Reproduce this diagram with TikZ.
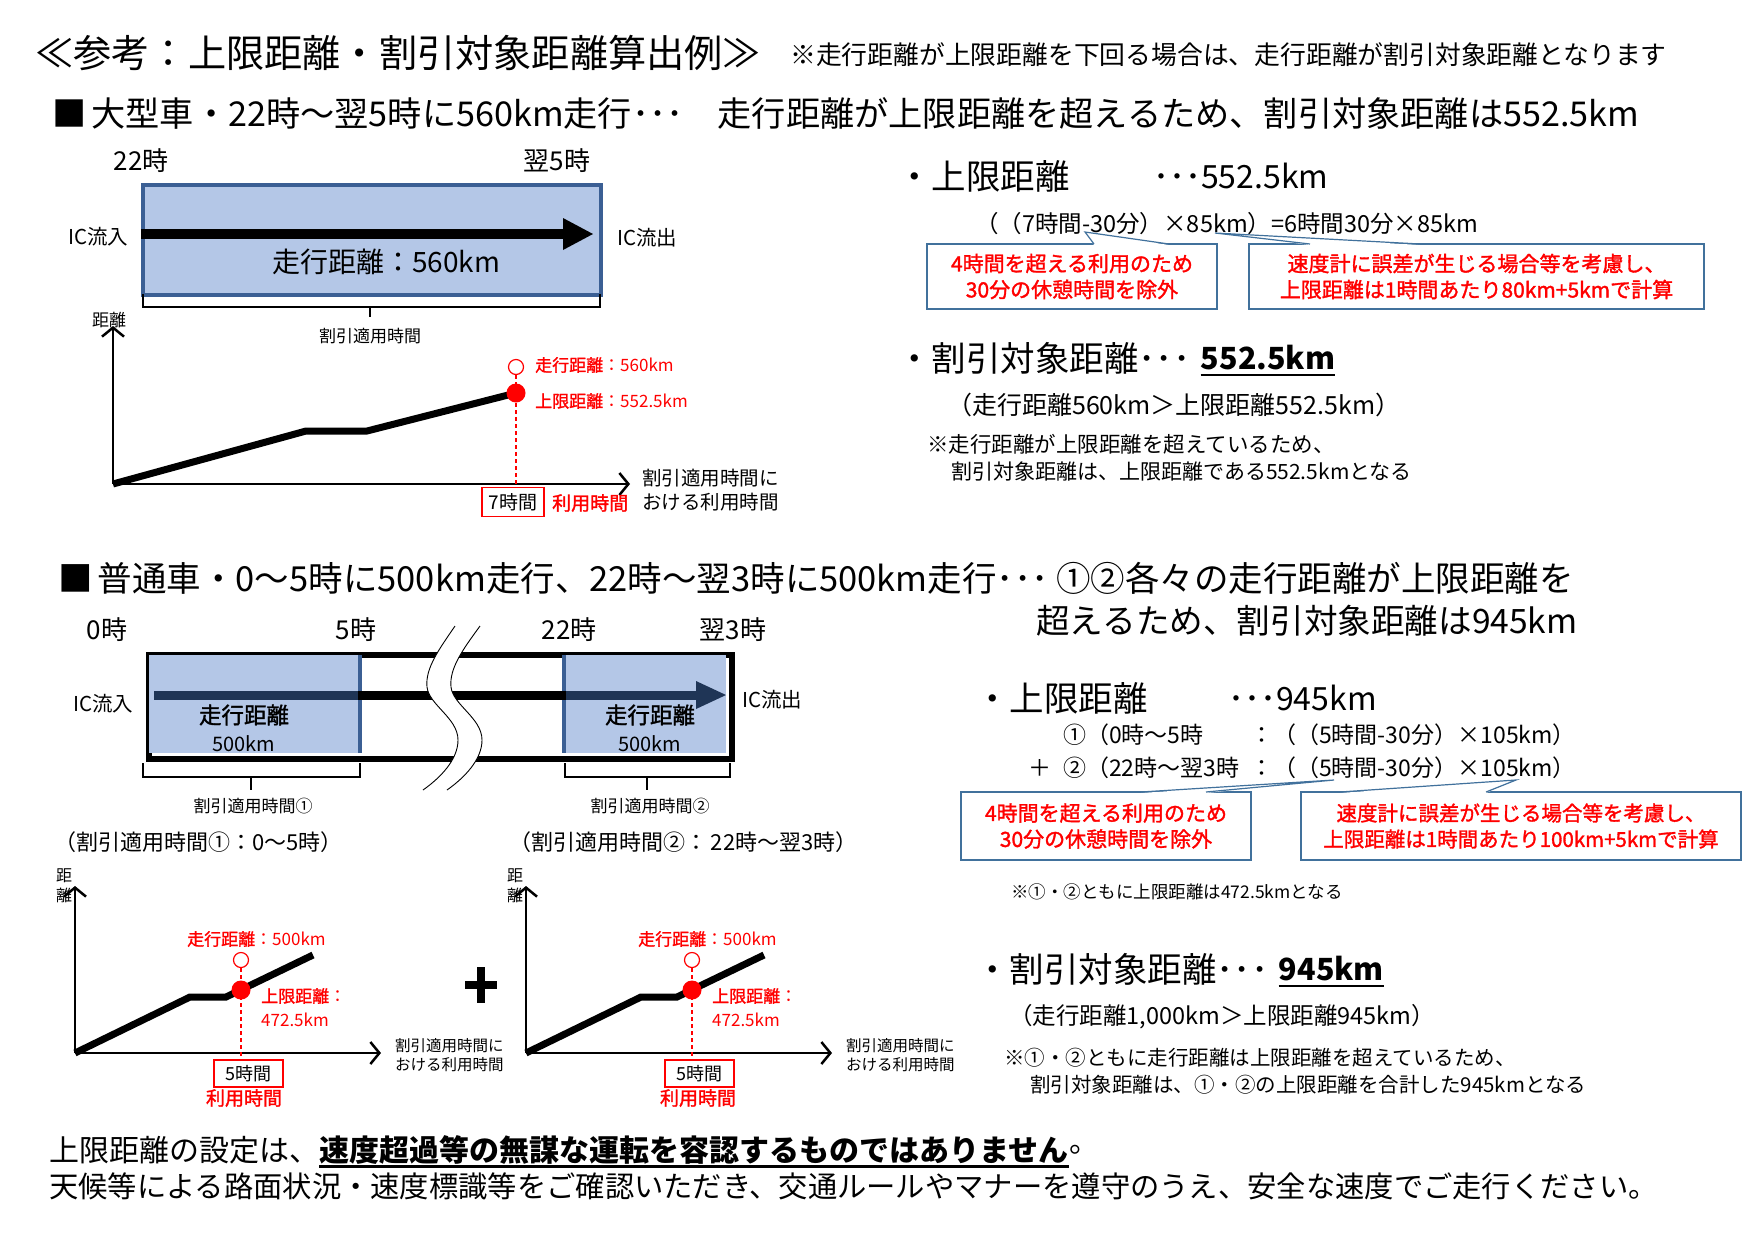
\documentclass[tikz,border=0pt]{standalone}
\usepackage{fontspec}
\setmainfont{Noto Sans CJK JP}
\newfontfamily\semib{Noto Sans CJK JP}[FakeBold=1.5]
\usetikzlibrary{arrows.meta,calc}
\definecolor{boxblue}{HTML}{B4C7E7}
\definecolor{edgeblue}{HTML}{3B5F94}
\definecolor{callblue}{HTML}{41719C}
\definecolor{navy}{HTML}{1F3556}
\definecolor{jred}{HTML}{FF0000}
\newcommand{\fsz}[1]{\fontsize{#1}{#1}\selectfont}
\tikzset{
  lbl/.style={inner sep=0pt, anchor=west},
  clbl/.style={inner sep=0pt},
  axisline/.style={line width=2.5pt, -{Straight Barb[length=9pt,width=22pt]}},
  trace/.style={line width=7pt},
  guide/.style={draw=jred, line width=1.5pt, dash pattern=on 4pt off 3pt},
  callbox/.style={draw=callblue, line width=1.2pt, fill=white, inner sep=0pt},
  calltxt/.style={text=jred, font=\fontsize{21}{26}\selectfont\semib, align=center},
  wedge/.style={draw=callblue, line width=1.2pt},
  hourbox/.style={draw=jred, line width=1.2pt, inner sep=0pt, font=\fsz{19}},
  redlbl/.style={text=jred, inner sep=0pt, anchor=west, font=\fsz{17}},
  brace/.style={line width=1.5pt},
  dotpt/.style={circle, fill=jred, inner sep=0pt, minimum size=19pt},
  opendot/.style={circle, draw=jred, fill=white, line width=1.2pt, inner sep=0pt, minimum size=15pt},
}
\begin{document}
\begin{tikzpicture}[x=1pt,y=-1pt]
\path[use as bounding box, fill=white] (0,0) rectangle (1755,1232);

% ---------- header ----------
\node[lbl, font=\fsz{38.2}] (title) at (35,53) {≪参考：上限距離・割引対象距離算出例≫};
\node[lbl, font=\fsz{25.8}] (note) at (790,55) {※走行距離が上限距離を下回る場合は、走行距離が割引対象距離となります};

% ---------- section 1 ----------
\node[lbl, font=\fsz{34.2}] (head1) at (52,113) {■\hspace{0.15em}大型車・22時～翌5時に560km走行･･･　走行距離が上限距離を超えるため、割引対象距離は552.5km};

\node[clbl, font=\fsz{26}] (t22a) at (141,161) {22時};
\node[clbl, font=\fsz{26}] (t5a) at (557,161) {翌5時};
\node[draw=edgeblue, line width=4pt, fill=boxblue, inner sep=0pt, minimum width=458pt, minimum height=110pt, anchor=north west] (road1) at (141,183) {};
\coordinate (r1in) at (141,234);
\coordinate (r1head) at (563,234);
\coordinate (r1tip) at (593,234);
\draw[line width=10pt] (r1in) -- (r1head);
\fill ($(r1head)+(0,-16)$) -- (r1tip) -- ($(r1head)+(0,16)$) -- cycle;
\node[clbl, font=\fsz{28}] (dist1) at (386,262) {走行距離：560km};
\node[lbl, font=\fsz{20.5}] (icin1) at (68,237) {IC流入};
\node[lbl, font=\fsz{20.5}] (icout1) at (617,238) {IC流出};
\draw[brace] (143,294) -- (143,307) -- (600,307) -- (600,294);
\draw[brace] (370,307) -- (370,317);
\node[clbl, font=\fsz{17}] (span1) at (370,336) {割引適用時間};
\node[clbl, font=\fsz{17}] (ylab1) at (109,320) {距離};

% graph 1
\coordinate (o1) at (113,484);
\coordinate (y1) at (113,326);
\coordinate (x1) at (630,484);
\coordinate (p1) at (516,393);
\draw[axisline] (o1) -- (y1);
\draw[axisline] (o1) -- (x1);
\draw[trace] (o1) -- (306,431) -- (367,431) -- (p1);
\node[hourbox, minimum width=62pt, minimum height=29pt] (hb1) at (513,502) {7時間};
\node[opendot] (oc1) at (516,367) {};
\draw[guide] (oc1.south) -- (hb1.north -| oc1);
\node[dotpt] (dot1) at (p1) {};
\node[lbl, text=jred, font=\fsz{19}\semib] (use1) at (552,503) {利用時間};
\node[lbl, align=left, font=\fontsize{19.5}{24}\selectfont] (xl1) at (642,490) {割引適用時間に\\おける利用時間};
\node[redlbl] (run1) at (535,365) {{\semib 走行距離}：560km};
\node[redlbl] (cap1) at (535,401) {{\semib 上限距離}：552.5km};

% right of section 1
\node[lbl, font=\fsz{34.5}] (ub1) at (897,176) {・上限距離};
\node[lbl, font=\fsz{32}] (ub1v) at (1153,176) {･･･552.5km};
\node[lbl, font=\fsz{23.5}] (form1) at (975,224) {（（7時間-30分）×85km）=6時間30分×85km};
\node[callbox, calltxt, minimum width=290pt, minimum height=65pt] (cb1) at (1072,276.5) {4時間を超える利用のため\\30分の休憩時間を除外};
\node[callbox, calltxt, minimum width=455pt, minimum height=65pt] (cb2) at (1476.5,276.5) {速度計に誤差が生じる場合等を考慮し、\\上限距離は1時間あたり80km+5kmで計算};
\coordinate (w1a) at (1094,244); \coordinate (w1b) at (1169,244); \coordinate (w1t) at (1085,232);
\coordinate (w2a) at (1310,244); \coordinate (w2b) at (1420,244); \coordinate (w2t) at (1215,233);
\fill[white] ($(w1a)+(0,1)$) -- (w1t) -- ($(w1b)+(0,1)$) -- cycle;
\draw[wedge] (w1a) -- (w1t) -- (w1b);
\fill[white] ($(w2a)+(0,1)$) -- (w2t) -- ($(w2b)+(0,1)$) -- cycle;
\draw[wedge] (w2a) -- (w2t) -- (w2b);

\node[lbl, font=\fsz{34.5}] (disc1) at (897,358) {・割引対象距離･･･};
\node[lbl, font=\fsz{30.5}\bfseries, xshift=10pt] (disc1v) at (disc1.east) {552.5km};
\draw[line width=2.5pt] ($(disc1v.base west)+(0,5)$) -- ($(disc1v.base east)+(0,5)$);
\node[lbl, font=\fsz{25}] (cmp1) at (947,405) {（走行距離560km＞上限距離552.5km）};
\node[lbl, font=\fsz{21.5}] (nt1a) at (927,444) {※走行距離が上限距離を超えているため、};
\node[lbl, font=\fsz{21}] (nt1b) at (951,471) {割引対象距離は、上限距離である552.5kmとなる};

% ---------- section 2 ----------
\node[lbl, font=\fsz{34.5}] (head2) at (58,578) {■\hspace{0.15em}普通車・0～5時に500km走行、22時～翌3時に500km走行･･･ ①②各々の走行距離が上限距離を};
\node[lbl, font=\fsz{33.6}] (head2b) at (1036,621) {超えるため、割引対象距離は945km};

\node[clbl, font=\fsz{26}] (t0) at (107,630) {0時};
\node[clbl, font=\fsz{26}] (t5b) at (356,630) {5時};
\node[clbl, font=\fsz{26}] (t22b) at (569,630) {22時};
\node[clbl, font=\fsz{26}] (t3) at (733,630) {翌3時};

\node[draw=black, line width=6pt, fill=white, inner sep=0pt, minimum width=583pt, minimum height=104pt, anchor=north west] (road2) at (146,652) {};
\fill[boxblue] (149,655) rectangle (360,753);
\fill[boxblue] (564,655) rectangle (726,753);
\draw[edgeblue, line width=4pt] (360,655) -- (360,753);
\draw[edgeblue, line width=4pt] (564,655) -- (564,753);
\coordinate (r2in) at (154,695);
\coordinate (r2a) at (358,695);
\coordinate (r2b) at (566,695);
\coordinate (r2head) at (696,695);
\coordinate (r2tip) at (726,695);
\draw[line width=9pt] (r2a) -- (r2b);
\draw[navy, line width=9pt] (r2in) -- (r2a);
\draw[navy, line width=9pt] (r2b) -- (r2head);
\fill[navy] ($(r2head)+(0,-14)$) -- (r2tip) -- ($(r2head)+(0,14)$) -- cycle;
% break mark
\fill[white] (455,626) .. controls (440,648) and (425,668) .. (427,687)
  .. controls (429,705) and (458,718) .. (458,740)
  .. controls (458,760) and (440,778) .. (423,790)
  -- (447,790) .. controls (464,778) and (482,760) .. (482,740)
  .. controls (482,718) and (453,705) .. (451,687)
  .. controls (449,668) and (464,648) .. (480,626) -- cycle;
\draw[line width=0.9pt] (455,626) .. controls (440,648) and (425,668) .. (427,687)
  .. controls (429,705) and (458,718) .. (458,740)
  .. controls (458,760) and (440,778) .. (423,790);
\draw[line width=0.9pt] (480,626) .. controls (464,648) and (449,668) .. (451,687)
  .. controls (453,705) and (482,718) .. (482,740)
  .. controls (482,760) and (464,778) .. (447,790);

\node[lbl, font=\fsz{20.5}] (icin2) at (73,704) {IC流入};
\node[lbl, font=\fsz{20.5}] (icout2) at (742,700) {IC流出};
\node[clbl, font=\fsz{22.5}\semib] (pd1) at (244,715) {走行距離};
\node[clbl, font=\fsz{20}] (pk1) at (244,744) {500km};
\node[clbl, font=\fsz{22.5}\semib] (pd2) at (650,715) {走行距離};
\node[clbl, font=\fsz{20}] (pk2) at (650,744) {500km};
\draw[brace] (143,763) -- (143,777) -- (360,777) -- (360,763);
\draw[brace] (251,777) -- (251,790);
\draw[brace] (565,763) -- (565,777) -- (730,777) -- (730,763);
\draw[brace] (647,777) -- (647,790);
\node[clbl, font=\fsz{17}] (span2a) at (253,806) {割引適用時間①};
\node[clbl, font=\fsz{17}] (span2b) at (650,806) {割引適用時間②};
\node[lbl, font=\fsz{22}] (per1) at (54,842) {（割引適用時間①：0～5時）};
\node[lbl, font=\fsz{22}] (per2) at (509,842) {（割引適用時間②：\,22時～翌3時）};

% graph 2a
\coordinate (o2) at (75,1053);
\coordinate (y2) at (75,886);
\coordinate (x2) at (381,1053);
\coordinate (p2) at (241,990);
\node[clbl, align=center, font=\fontsize{16}{20}\selectfont] (yl2) at (64,886) {距\\離};
\draw[axisline] (o2) -- (y2);
\draw[axisline] (o2) -- (x2);
\draw[trace] (o2) -- (190,997) -- (226,997) -- (313,955);
\node[hourbox, minimum width=69pt, minimum height=27pt, font=\fsz{18}] (hb2) at (248.5,1073.5) {5時間};
\node[opendot] (oc2) at (241,960) {};
\draw[guide] (oc2.south) -- (hb2.north -| oc2);
\node[dotpt] (dot2) at (p2) {};
\node[clbl, text=jred, font=\fsz{19}\semib] (use2) at (244,1098) {利用時間};
\node[redlbl] (run2) at (187,939) {{\semib 走行距離}：500km};
\node[redlbl] (cap2) at (261,996) {{\semib 上限距離}：};
\node[redlbl] (cap2v) at (261,1020) {472.5km};
\node[lbl, align=left, font=\fontsize{15.5}{19}\selectfont] (xl2) at (395,1055) {割引適用時間に\\おける利用時間};

% plus
\coordinate (pl) at (481,985);
\draw[line width=8pt] ($(pl)+(-16,0)$) -- ($(pl)+(16,0)$);
\draw[line width=8pt] ($(pl)+(0,-18)$) -- ($(pl)+(0,18)$);

% graph 2b
\coordinate (o3) at (526,1053);
\coordinate (y3) at (526,886);
\coordinate (x3) at (832,1053);
\coordinate (p3) at (692,990);
\node[clbl, align=center, font=\fontsize{16}{20}\selectfont] (yl3) at (515,886) {距\\離};
\draw[axisline] (o3) -- (y3);
\draw[axisline] (o3) -- (x3);
\draw[trace] (o3) -- (641,997) -- (677,997) -- (764,955);
\node[hourbox, minimum width=69pt, minimum height=27pt, font=\fsz{18}] (hb3) at (699.5,1073.5) {5時間};
\node[opendot] (oc3) at (692,960) {};
\draw[guide] (oc3.south) -- (hb3.north -| oc3);
\node[dotpt] (dot3) at (p3) {};
\node[clbl, text=jred, font=\fsz{19}\semib] (use3) at (698,1098) {利用時間};
\node[redlbl] (run3) at (638,939) {{\semib 走行距離}：500km};
\node[redlbl] (cap3) at (712,996) {{\semib 上限距離}：};
\node[redlbl] (cap3v) at (712,1020) {472.5km};
\node[lbl, align=left, font=\fontsize{15.5}{19}\selectfont] (xl3) at (846,1055) {割引適用時間に\\おける利用時間};

% right of section 2
\node[lbl, font=\fsz{34.5}] (ub2) at (975,698) {・上限距離};
\node[lbl, font=\fsz{32}] (ub2v) at (1228,698) {･･･945km};
\node[lbl, font=\fsz{23}] (f1a) at (1063,735) {①（0時～5時};
\node[lbl, font=\fsz{23}] (f1b) at (1250,735) {：（（5時間-30分）×105km）};
\node[lbl, font=\fsz{23}] (fplus) at (1028,768) {＋};
\node[lbl, font=\fsz{23}] (f2a) at (1063,768) {②（22時～翌3時};
\node[lbl, font=\fsz{23}] (f2b) at (1250,768) {：（（5時間-30分）×105km）};
\node[callbox, calltxt, minimum width=290pt, minimum height=68pt] (cb3) at (1106,826) {4時間を超える利用のため\\30分の休憩時間を除外};
\node[callbox, calltxt, minimum width=440pt, minimum height=68pt, font=\fontsize{20.5}{26}\selectfont\semib] (cb4) at (1521,826) {速度計に誤差が生じる場合等を考慮し、\\上限距離は1時間あたり100km+5kmで計算};
\coordinate (w3a) at (1141,792); \coordinate (w3b) at (1206,792); \coordinate (w3t) at (1334,780);
\coordinate (w4a) at (1340,792); \coordinate (w4b) at (1486,792); \coordinate (w4t) at (1516,780);
\fill[white] ($(w3a)+(0,1)$) -- (w3t) -- ($(w3b)+(0,1)$) -- cycle;
\draw[wedge] (w3a) -- (w3t) -- (w3b);
\fill[white] ($(w4a)+(0,1)$) -- (w4t) -- ($(w4b)+(0,1)$) -- cycle;
\draw[wedge] (w4a) -- (w4t) -- (w4b);
\node[lbl, font=\fsz{17.5}] (nt2) at (1011,892) {※①・②ともに上限距離は472.5kmとなる};

\node[lbl, font=\fsz{34.5}] (disc2) at (975,969) {・割引対象距離･･･};
\node[lbl, font=\fsz{30.5}\bfseries, xshift=10pt] (disc2v) at (disc2.east) {945km};
\draw[line width=2.5pt] ($(disc2v.base west)+(0,5)$) -- ($(disc2v.base east)+(0,5)$);
\node[lbl, font=\fsz{23.5}] (cmp2) at (1009,1017) {（走行距離1,000km＞上限距離945km）};
\node[lbl, font=\fsz{20.5}] (nt3a) at (1004,1058) {※①・②ともに走行距離は上限距離を超えているため、};
\node[lbl, font=\fsz{20.5}] (nt3b) at (1030,1085) {割引対象距離は、①・②の上限距離を合計した945kmとなる};

% ---------- footer ----------
\node[lbl, font=\fsz{30}] (ft1a) at (49,1150) {上限距離の設定は、};
\node[lbl, font=\fsz{30}\bfseries] (ft1b) at (ft1a.east) {速度超過等の無謀な運転を容認するものではありません};
\node[lbl, font=\fsz{30}] (ft1c) at (ft1b.east) {。};
\draw[line width=2.5pt] ($(ft1b.base west)+(0,5)$) -- ($(ft1b.base east)+(0,5)$);
\node[lbl, font=\fsz{29.3}] (ft2) at (49,1186) {天候等による路面状況・速度標識等をご確認いただき、交通ルールやマナーを遵守のうえ、安全な速度でご走行ください。};
\end{tikzpicture}
\end{document}
